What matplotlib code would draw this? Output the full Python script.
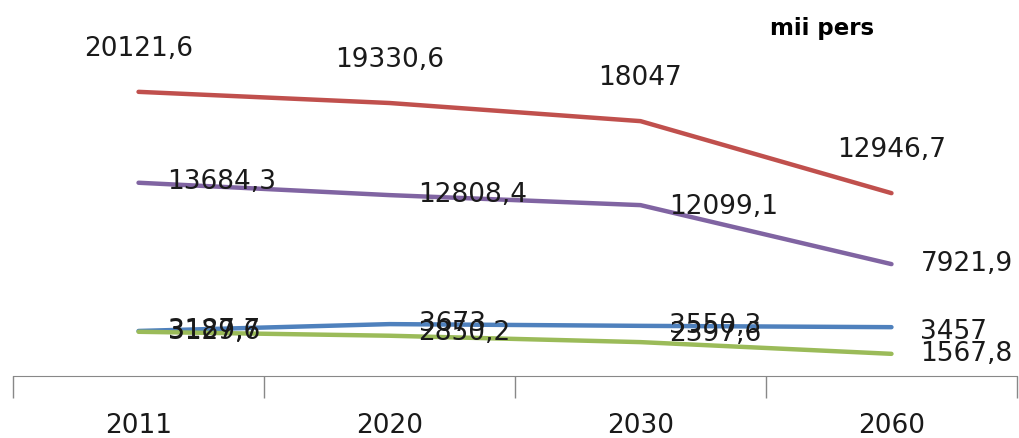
import matplotlib.pyplot as plt

# data (thousand persons)
years = ['2011', '2020', '2030', '2060']
red_vals = [20121.6, 19330.6, 18047, 12946.7]
purple_vals = [13684.3, 12808.4, 12099.1, 7921.9]
blue_vals = [3187.7, 3673, 3550.3, 3457]
green_vals = [3129.6, 2850.2, 2397.6, 1567.8]
unit_label = 'mii pers'

colors = {'red': '#C0504D', 'purple': '#8064A2', 'blue': '#4F81BD', 'green': '#9BBB59'}

# label offsets in pixels (dx, dy, ha) - red above, the rest to the right
red_off = [(0, 43, 'center')] * 4
purple_off = [(29, 1, 'left'), (29, 0, 'left'), (29, -2, 'left'), (29, 0, 'left')]
blue_off = [(29, 0, 'left'), (29, 0, 'left'), (29, 0, 'left'), (29, -5, 'left')]
green_off = [(29, 0, 'left'), (29, 3, 'left'), (29, 8, 'left'), (29, 0, 'left')]

dpi = 100
fig = plt.figure(figsize=(10.19, 4.38), dpi=dpi)
ax = fig.add_axes([0.0128, 0.1416, 0.9852, 0.806])

x = list(range(len(years)))
px = 72.0 / dpi  # pixel -> point


def fmt(v):
    s = ('%.1f' % v).rstrip('0').rstrip('.')
    return s.replace('.', ',')


for vals, col, offs in [(red_vals, 'red', red_off), (purple_vals, 'purple', purple_off),
                        (blue_vals, 'blue', blue_off), (green_vals, 'green', green_off)]:
    ax.plot(x, vals, color=colors[col], lw=3.2, solid_capstyle='round')
    for xi, v, (dx, dy, ha) in zip(x, vals, offs):
        ax.annotate(fmt(v), (xi, v), xytext=(dx * px, dy * px), textcoords='offset points',
                    ha=ha, va='center', fontsize=19, color='#1a1a1a', family='DejaVu Sans')

ax.set_xlim(-0.5, 3.5)
ax.set_ylim(0, 25000)
ax.set_yticks([])
ax.set_xticks(x)
ax.set_xticklabels(years, fontsize=19, family='DejaVu Sans', color='#1a1a1a')
ax.set_xticks([-0.5, 0.5, 1.5, 2.5, 3.5], minor=True)
ax.tick_params(axis='x', which='major', length=0, pad=27)
ax.tick_params(axis='x', which='minor', length=16, color='#888888', width=1)
for s in ['top', 'right', 'left']:
    ax.spines[s].set_visible(False)
ax.spines['bottom'].set_color('#888888')

fig.text(0.756, 0.935, unit_label, fontsize=16.5, fontweight='bold', ha='left', va='center')

fig.savefig('out.png', dpi=dpi)
